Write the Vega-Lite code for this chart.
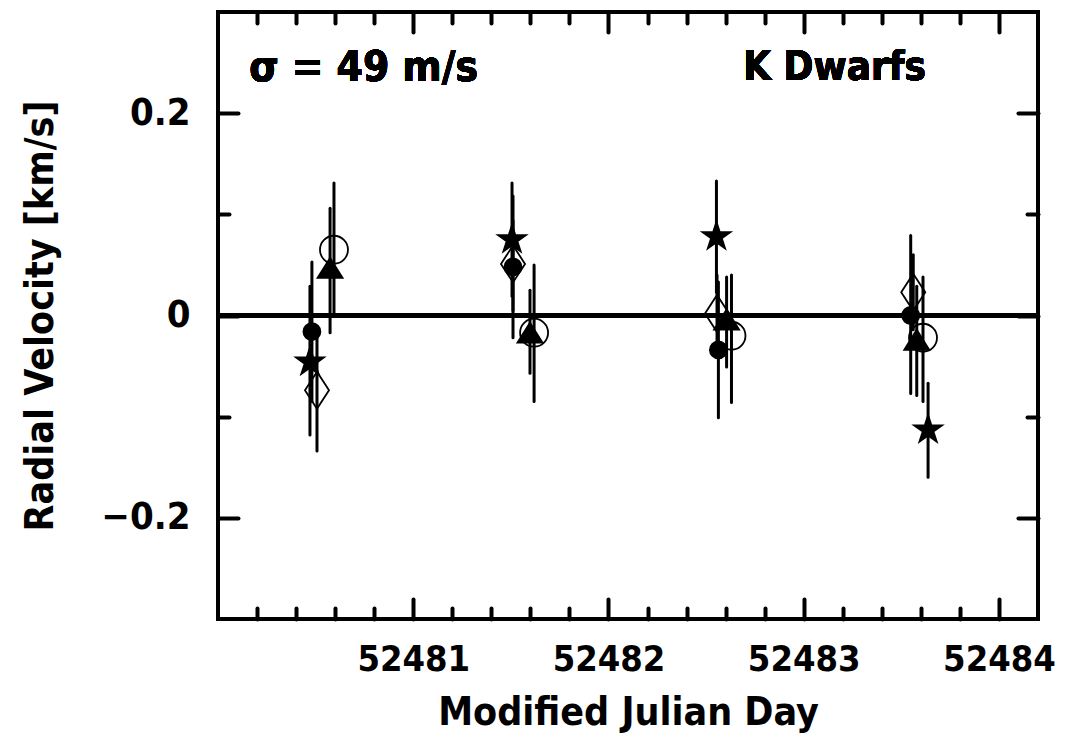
{
  "$schema": "https://vega.github.io/schema/vega-lite/v6.json",
  "width": 820,
  "height": 607,
  "autosize": {"type": "none"},
  "padding": {"left": 218, "top": 12, "right": 35, "bottom": 134},
  "background": "white",
  "config": {
    "view": {"stroke": "black", "strokeWidth": 4},
    "font": "DejaVu Sans Condensed, Roboto, sans-serif",
    "axis": {
      "domain": false,
      "grid": false,
      "tickColor": "black",
      "tickWidth": 4,
      "tickCap": "round",
      "labelColor": "black",
      "titleColor": "black",
      "labelFont": "DejaVu Sans Condensed, Roboto, sans-serif",
      "titleFont": "DejaVu Sans Condensed, Roboto, sans-serif",
      "labelFontWeight": "bold",
      "titleFontWeight": "bold",
      "labelFontSize": 38,
      "titleFontSize": 39,
      "labelOverlap": false,
      "labelFlush": false
    }
  },
  "data": {
    "values": [
      {"series": "star", "mjd": 52480.471, "rv": -0.046, "lo": -0.118, "hi": 0.029},
      {"series": "fcircle", "mjd": 52480.481, "rv": -0.016, "lo": -0.085, "hi": 0.053},
      {"series": "diamond", "mjd": 52480.507, "rv": -0.074, "lo": -0.134, "hi": -0.014},
      {"series": "triangle", "mjd": 52480.574, "rv": 0.047, "lo": -0.017, "hi": 0.106},
      {"series": "ocircle", "mjd": 52480.594, "rv": 0.065, "lo": -0.001, "hi": 0.131},
      {"series": "star", "mjd": 52481.506, "rv": 0.075, "lo": 0.019, "hi": 0.131},
      {"series": "diamond", "mjd": 52481.511, "rv": 0.051, "lo": 0.005, "hi": 0.094},
      {"series": "fcircle", "mjd": 52481.511, "rv": 0.048, "lo": -0.022, "hi": 0.118},
      {"series": "triangle", "mjd": 52481.598, "rv": -0.017, "lo": -0.057, "hi": 0.025},
      {"series": "ocircle", "mjd": 52481.619, "rv": -0.017, "lo": -0.085, "hi": 0.05},
      {"series": "star", "mjd": 52482.553, "rv": 0.078, "lo": 0.023, "hi": 0.133},
      {"series": "diamond", "mjd": 52482.556, "rv": 0.002, "lo": -0.036, "hi": 0.04},
      {"series": "fcircle", "mjd": 52482.563, "rv": -0.034, "lo": -0.101, "hi": 0.033},
      {"series": "triangle", "mjd": 52482.605, "rv": -0.004, "lo": -0.051, "hi": 0.038},
      {"series": "ocircle", "mjd": 52482.63, "rv": -0.02, "lo": -0.086, "hi": 0.04},
      {"series": "fcircle", "mjd": 52483.548, "rv": 0.0, "lo": -0.077, "hi": 0.079},
      {"series": "diamond", "mjd": 52483.561, "rv": 0.023, "lo": -0.014, "hi": 0.06},
      {"series": "triangle", "mjd": 52483.579, "rv": -0.024, "lo": -0.079, "hi": 0.029},
      {"series": "ocircle", "mjd": 52483.611, "rv": -0.022, "lo": -0.085, "hi": 0.038},
      {"series": "star", "mjd": 52483.637, "rv": -0.113, "lo": -0.16, "hi": -0.067}
    ]
  },
  "resolve": {"axis": {"x": "independent", "y": "independent"}},
  "layer": [
    {
      "mark": {"type": "rule", "color": "black", "strokeWidth": 4},
      "encoding": {
        "y": {
          "datum": 0,
          "type": "quantitative",
          "scale": {"domain": [-0.3, 0.3], "nice": false, "zero": false},
          "axis": {
            "orient": "left",
            "values": [-0.2, 0, 0.2],
            "format": ".1~f",
            "tickSize": -20,
            "labelPadding": 48,
            "title": "Radial Velocity [km/s]",
            "titlePadding": 40
          }
        }
      }
    },
    {
      "mark": {"type": "rule", "color": "black", "strokeWidth": 3, "strokeCap": "round"},
      "encoding": {
        "x": {
          "field": "mjd",
          "type": "quantitative",
          "scale": {"domain": [52480, 52484.2], "nice": false, "zero": false},
          "axis": {
            "orient": "bottom",
            "values": [52481, 52482, 52483, 52484],
            "format": "d",
            "tickSize": -20,
            "labelFontSize": 36,
            "labelPadding": 43,
            "title": "Modified Julian Day",
            "titlePadding": 16
          }
        },
        "y": {
          "field": "lo",
          "type": "quantitative",
          "scale": {"domain": [-0.3, 0.3], "nice": false, "zero": false},
          "axis": {"orient": "left", "values": [-0.1, 0.1], "tickSize": -11, "labels": false, "title": null}
        },
        "y2": {"field": "hi"}
      }
    },
    {
      "mark": {"type": "point", "stroke": "black", "strokeWidth": 1.8, "opacity": 1},
      "encoding": {
        "x": {
          "field": "mjd",
          "type": "quantitative",
          "scale": {"domain": [52480, 52484.2], "nice": false, "zero": false},
          "axis": {
            "orient": "bottom",
            "values": [52480.2, 52480.4, 52480.6, 52480.8, 52481.2, 52481.4, 52481.6, 52481.8, 52482.2, 52482.4, 52482.6, 52482.8, 52483.2, 52483.4, 52483.6, 52483.8],
            "tickSize": -11, "labels": false, "title": null
          }
        },
        "y": {
          "field": "rv",
          "type": "quantitative",
          "scale": {"domain": [-0.3, 0.3], "nice": false, "zero": false},
          "axis": {"orient": "right", "values": [-0.2, 0, 0.2], "tickSize": -20, "labels": false, "title": null}
        },
        "shape": {
          "field": "series",
          "type": "nominal",
          "legend": null,
          "scale": {
            "type": "ordinal",
            "domain": ["star", "fcircle", "diamond", "triangle", "ocircle"],
            "range": [
              "M0,-1L0.2245,-0.309L0.951,-0.309L0.363,0.118L0.588,0.809L0,0.382L-0.588,0.809L-0.363,0.118L-0.951,-0.309L-0.2245,-0.309Z",
              "circle",
              "M0,-1L0.65,0L0,1L-0.65,0Z",
              "M0,-0.68L0.85,0.68L-0.85,0.68Z",
              "circle"
            ]
          }
        },
        "fill": {
          "field": "series",
          "type": "nominal",
          "legend": null,
          "scale": {
            "type": "ordinal",
            "domain": ["star", "fcircle", "diamond", "triangle", "ocircle"],
            "range": ["black", "black", "transparent", "black", "transparent"]
          }
        },
        "size": {
          "field": "series",
          "type": "nominal",
          "legend": null,
          "scale": {
            "type": "ordinal",
            "domain": ["star", "fcircle", "diamond", "triangle", "ocircle"],
            "range": [864, 289, 1369, 864, 784]
          }
        }
      }
    },
    {
      "mark": {"type": "text", "text": "σ = 49 m/s", "align": "left", "baseline": "middle", "font": "DejaVu Sans Condensed, Roboto, sans-serif", "fontWeight": "bold", "fontSize": 42, "color": "black"},
      "encoding": {
        "x": {
          "datum": 52480.16,
          "type": "quantitative",
          "scale": {"domain": [52480, 52484.2], "nice": false, "zero": false},
          "axis": {"orient": "top", "values": [52481, 52482, 52483, 52484], "tickSize": -20, "labels": false, "title": null}
        },
        "y": {
          "datum": 0.245,
          "type": "quantitative",
          "scale": {"domain": [-0.3, 0.3], "nice": false, "zero": false},
          "axis": {"orient": "right", "values": [-0.1, 0.1], "tickSize": -11, "labels": false, "title": null}
        }
      }
    },
    {
      "mark": {"type": "text", "text": "K Dwarfs", "align": "left", "baseline": "middle", "font": "DejaVu Sans Condensed, Roboto, sans-serif", "fontWeight": "bold", "fontSize": 40, "color": "black"},
      "encoding": {
        "x": {
          "datum": 52482.69,
          "type": "quantitative",
          "scale": {"domain": [52480, 52484.2], "nice": false, "zero": false},
          "axis": {
            "orient": "top",
            "values": [52480.2, 52480.4, 52480.6, 52480.8, 52481.2, 52481.4, 52481.6, 52481.8, 52482.2, 52482.4, 52482.6, 52482.8, 52483.2, 52483.4, 52483.6, 52483.8],
            "tickSize": -11, "labels": false, "title": null
          }
        },
        "y": {
          "datum": 0.245,
          "type": "quantitative",
          "scale": {"domain": [-0.3, 0.3], "nice": false, "zero": false},
          "axis": null
        }
      }
    }
  ]
}
